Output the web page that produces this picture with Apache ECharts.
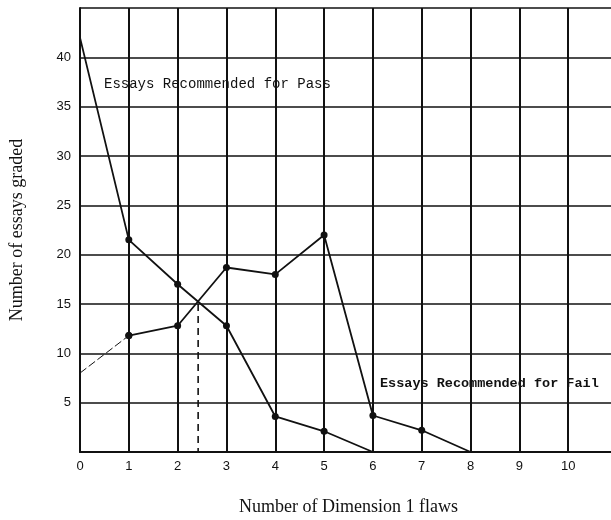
<!DOCTYPE html>
<html>
<head>
<meta charset="utf-8">
<script src="https://cdn.jsdelivr.net/npm/echarts@6/dist/echarts.min.js"></script>
<style>
  html, body { margin: 0; padding: 0; background: #fff; }
  #chart { width: 611px; height: 520px; }
</style>
</head>
<body>
<div id="chart"></div>
<script>
// data
const flaws = [0, 1, 2, 3, 4, 5, 6, 7, 8]
const passCounts = [42, 21.5, 17, 12.8, 3.6, 2.1, 0]
const failCounts = [8, 11.8, 12.8, 18.7, 18, 22, 3.7, 2.2, 0]
const crossover = [2.42, 15]
const xTickLabels = ['0', '1', '2', '3', '4', '5', '6', '7', '8', '9', '10']
const yTickLabels = ['5', '10', '15', '20', '25', '30', '35', '40']

const ink = '#111'

// first and last points carry no dot
const toPoints = (ys) => ys.map((y, i) => ({
  value: [flaws[i], y],
  symbol: (i === 0 || i === ys.length - 1) ? 'none' : 'circle'
}))

const passPoints = toPoints(passCounts)
const failPoints = toPoints(failCounts)

const chart = echarts.init(document.getElementById('chart'))

const option = {
  animation: false,
  backgroundColor: '#fff',
  grid: { left: 80, right: -6, top: 8, bottom: 68, outerBoundsMode: 'none', containLabel: false },
  xAxis: {
    type: 'value',
    min: 0,
    max: 11,
    interval: 1,
    name: 'Number of Dimension 1 flaws',
    nameLocation: 'middle',
    nameGap: 46,
    nameTextStyle: { fontFamily: 'Liberation Serif', fontSize: 18, color: ink },
    axisLine: { show: true, onZero: false, lineStyle: { color: ink, width: 2 } },
    axisTick: { show: false },
    axisLabel: {
      margin: 8,
      fontFamily: 'Liberation Sans',
      fontSize: 13,
      color: ink,
      formatter: (v) => xTickLabels.includes(String(v)) ? String(v) : ''
    },
    splitLine: { show: true, lineStyle: { color: ink, width: 2 } }
  },
  yAxis: {
    type: 'value',
    min: 0,
    max: 45,
    interval: 5,
    name: 'Number of essays graded',
    nameLocation: 'middle',
    nameGap: 54,
    nameTextStyle: { fontFamily: 'Liberation Serif', fontSize: 18, color: ink },
    axisLine: { show: true, lineStyle: { color: ink, width: 2 } },
    axisTick: { show: false },
    axisLabel: {
      margin: 9,
      fontFamily: 'Liberation Sans',
      fontSize: 13,
      color: ink,
      formatter: (v) => yTickLabels.includes(String(v)) ? String(v) : ''
    },
    splitLine: { show: true, lineStyle: { color: ink, width: 1.6 } }
  },
  series: [
    {
      name: 'Pass',
      type: 'line',
      data: passPoints,
      symbolSize: 7,
      itemStyle: { color: ink },
      lineStyle: { color: ink, width: 1.8 },
      z: 5
    },
    {
      name: 'Fail (start)',
      type: 'line',
      data: failPoints.slice(0, 2),
      symbolSize: 7,
      itemStyle: { color: ink },
      lineStyle: { color: ink, width: 1, type: [8, 3] },
      z: 5
    },
    {
      name: 'Fail',
      type: 'line',
      data: failPoints.slice(1),
      symbolSize: 7,
      itemStyle: { color: ink },
      lineStyle: { color: ink, width: 1.8 },
      z: 5
    },
    {
      // drop line from the crossing point
      name: 'Crossover',
      type: 'line',
      data: [crossover, [crossover[0], 0]],
      symbol: 'none',
      lineStyle: { color: ink, width: 1.6, type: [7, 5] },
      z: 4
    }
  ],
  graphic: [
    {
      type: 'text',
      left: 104,
      top: 77,
      style: {
        text: 'Essays Recommended for Pass',
        font: '14px "Liberation Mono"',
        fill: ink
      }
    },
    {
      type: 'text',
      left: 380,
      top: 377,
      style: {
        text: 'Essays Recommended for Fail',
        font: 'bold 13.5px "Liberation Mono"',
        fill: ink
      }
    }
  ]
}

chart.setOption(option)
</script>
</body>
</html>
